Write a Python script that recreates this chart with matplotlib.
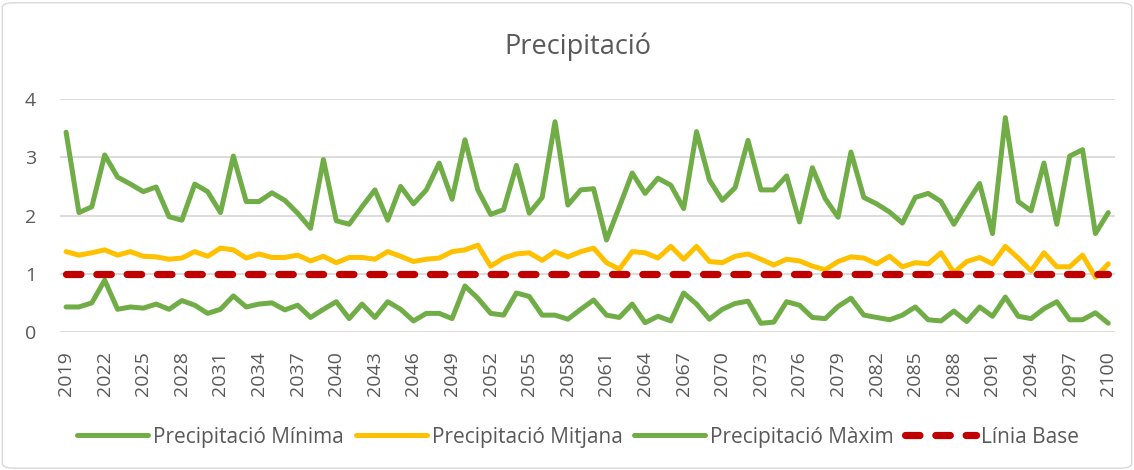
import matplotlib
matplotlib.use("Agg")
import matplotlib.pyplot as plt
from matplotlib.patches import FancyBboxPatch

plt.rcParams['font.family'] = ['Open Sans', 'DejaVu Sans']

years = list(range(2019, 2101))

prec_min = [0.43, 0.43, 0.50, 0.89, 0.39, 0.43, 0.41, 0.48, 0.39, 0.54,
            0.46, 0.32, 0.39, 0.62, 0.43, 0.48, 0.50, 0.38, 0.46, 0.25,
            0.39, 0.52, 0.23, 0.48, 0.25, 0.52, 0.39, 0.19, 0.32, 0.32,
            0.23, 0.79, 0.58, 0.32, 0.29, 0.67, 0.61, 0.29, 0.29, 0.22,
            0.39, 0.55, 0.29, 0.25, 0.48, 0.16, 0.27, 0.19, 0.67, 0.48,
            0.22, 0.39, 0.49, 0.53, 0.15, 0.17, 0.52, 0.46, 0.25, 0.23,
            0.44, 0.58, 0.29, 0.25, 0.21, 0.29, 0.43, 0.21, 0.19, 0.36,
            0.18, 0.43, 0.27, 0.60, 0.27, 0.23, 0.40, 0.52, 0.21, 0.21,
            0.33, 0.15]

prec_mean = [1.38, 1.32, 1.36, 1.41, 1.32, 1.38, 1.30, 1.29, 1.25, 1.27,
             1.38, 1.30, 1.44, 1.41, 1.27, 1.34, 1.28, 1.28, 1.32, 1.22,
             1.30, 1.19, 1.28, 1.28, 1.25, 1.38, 1.30, 1.21, 1.25, 1.27,
             1.38, 1.41, 1.49, 1.13, 1.27, 1.34, 1.36, 1.23, 1.38, 1.29,
             1.38, 1.44, 1.19, 1.08, 1.38, 1.36, 1.27, 1.47, 1.25, 1.47,
             1.21, 1.19, 1.30, 1.34, 1.25, 1.15, 1.25, 1.22, 1.13, 1.07,
             1.21, 1.29, 1.27, 1.17, 1.30, 1.12, 1.19, 1.17, 1.36, 1.02,
             1.21, 1.28, 1.17, 1.47, 1.27, 1.05, 1.36, 1.12, 1.12, 1.32,
             0.94, 1.17]

prec_max = [3.43, 2.05, 2.15, 3.04, 2.66, 2.54, 2.41, 2.49, 1.98, 1.92,
            2.54, 2.41, 2.05, 3.02, 2.24, 2.24, 2.39, 2.26, 2.04, 1.78,
            2.96, 1.91, 1.85, 2.15, 2.44, 1.92, 2.50, 2.20, 2.44, 2.90,
            2.28, 3.30, 2.44, 2.02, 2.10, 2.86, 2.04, 2.31, 3.61, 2.18,
            2.44, 2.46, 1.58, 2.15, 2.73, 2.38, 2.64, 2.52, 2.12, 3.44,
            2.61, 2.26, 2.48, 3.29, 2.44, 2.44, 2.68, 1.89, 2.82, 2.29,
            1.97, 3.09, 2.31, 2.20, 2.06, 1.87, 2.31, 2.38, 2.24, 1.85,
            2.21, 2.55, 1.69, 3.68, 2.24, 2.08, 2.90, 1.85, 3.02, 3.13,
            1.69, 2.05]

baseline = [1.0] * len(years)

title = "Precipitació"
labels = ["Precipitació Mínima", "Precipitació Mitjana",
          "Precipitació Màxim", "Línia Base"]

GREEN = "#70AD47"
YELLOW = "#FFC000"
RED = "#C00000"
GRID = "#D9D9D9"
TXT = "#595959"

fig = plt.figure(figsize=(11.34, 4.70), dpi=100)
ax = fig.add_axes([0.0526, 0.2936, 0.9304, 0.4957])

lw = 3.6
ax.plot(years, prec_min, color=GREEN, lw=lw, label=labels[0],
        solid_capstyle='round', solid_joinstyle='round')
ax.plot(years, prec_mean, color=YELLOW, lw=lw, label=labels[1],
        solid_capstyle='round', solid_joinstyle='round')
ax.plot(years, prec_max, color=GREEN, lw=lw, label=labels[2],
        solid_capstyle='round', solid_joinstyle='round')
ax.plot(years, baseline, color=RED, lw=5.2, label=labels[3],
        dashes=(2.0, 2.2), dash_capstyle='round')

ax.set_xlim(years[0] - 0.5, years[-1] + 0.5)
ax.set_ylim(0, 4)
ax.set_yticks([0, 1, 2, 3, 4])
ax.set_xticks(years[::3])
ax.set_xticklabels([str(y) for y in years[::3]], rotation=90)
ax.tick_params(axis='x', length=0, pad=14, labelsize=14, colors=TXT)
ax.tick_params(axis='y', length=0, pad=17, labelsize=14, colors=TXT)
ax.grid(axis='y', color=GRID, lw=1.3)
ax.set_axisbelow(True)
for s in ax.spines.values():
    s.set_visible(False)

fig.text(0.51, 0.9, title, ha='center', va='center', fontsize=19.5, color=TXT)

leg = fig.legend(loc='center', bbox_to_anchor=(0.51, 0.07), ncol=4,
                 frameon=False, fontsize=15, handlelength=3.4,
                 handletextpad=0.25, columnspacing=0.55, labelcolor=TXT)

border = FancyBboxPatch((0.002, 0.004), 0.996, 0.99,
                        boxstyle="round,pad=0,rounding_size=0.01",
                        transform=fig.transFigure, fill=False,
                        edgecolor=GRID, lw=1.0)
fig.patches.append(border)

fig.savefig("out.png", dpi=100, facecolor="white")
